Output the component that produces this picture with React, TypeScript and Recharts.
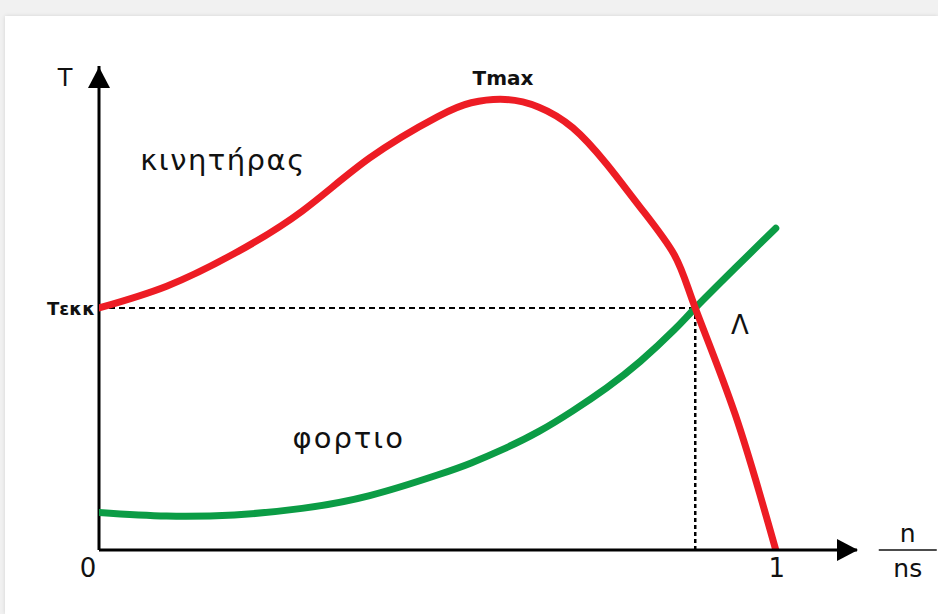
import {
  ComposedChart,
  Line,
  ReferenceDot,
  ReferenceLine,
  XAxis,
  YAxis,
} from "recharts";

// speed ratio n/ns
const speed = [0, 0.1, 0.2, 0.3, 0.4, 0.5, 0.55, 0.6, 0.65, 0.7, 0.75, 0.8, 0.85, 0.881, 0.94, 1.0];
// motor torque (κινητήρας), in units of Tεκκ
const motor = [1.0, 1.09, 1.225, 1.4, 1.62, 1.79, 1.848, 1.862, 1.83, 1.745, 1.595, 1.415, 1.22, 1.0, 0.56, 0];
// load torque (φορτιο)
const load = [0.155, 0.14, 0.145, 0.172, 0.225, 0.31, 0.36, 0.42, 0.49, 0.575, 0.67, 0.78, 0.91, 1.0, 1.165, 1.33];
const xTicks = [0, 1];
const operating = { x: 0.881, y: 1.0 };

const data = speed.map((s, i) => ({ s, motor: motor[i], load: load[i] }));

const FONT = "'DejaVu Sans', 'Noto Sans', sans-serif";
const RED = "#ed1c24";
const GREEN = "#0b9c45";

function textShape(
  text: string,
  opts: { size: number; bold?: boolean; anchor?: string; spacing?: number }
) {
  return (props: any) => (
    <text
      x={props.cx}
      y={props.cy}
      fontFamily={FONT}
      fontSize={opts.size}
      fontWeight={opts.bold ? 700 : 400}
      letterSpacing={opts.spacing ?? 0}
      textAnchor={opts.anchor ?? "middle"}
      dominantBaseline="central"
      fill="#111"
    >
      {text}
    </text>
  );
}

function UpArrow(props: any) {
  const { cx, cy } = props;
  return <polygon points={`${cx},${cy + 1} ${cx - 11},${cy + 22} ${cx + 11},${cy + 22}`} fill="#000" />;
}

function RightArrow(props: any) {
  const { cx, cy } = props;
  return <polygon points={`${cx + 1},${cy} ${cx - 20},${cy - 11} ${cx - 20},${cy + 11}`} fill="#000" />;
}

function Fraction(props: any) {
  const { cx, cy } = props;
  return (
    <g fontFamily={FONT} fontSize={25} fill="#111" textAnchor="middle">
      <text x={cx} y={cy - 17} dominantBaseline="central">n</text>
      <line x1={cx - 29} x2={cx + 29} y1={cy} y2={cy} stroke="#111" strokeWidth={1.5} />
      <text x={cx} y={cy + 18} dominantBaseline="central">ns</text>
    </g>
  );
}

function Tick(props: any) {
  const { x, y, payload } = props;
  const dx = payload.value === 0 ? -11 : 1;
  return (
    <text x={x + dx} y={y + 10} fontFamily={FONT} fontSize={26} textAnchor="middle" dominantBaseline="central" fill="#111">
      {payload.value}
    </text>
  );
}

export default function App() {
  return (
    <div style={{ position: "fixed", left: 0, top: 0, width: 938, height: 614, background: "#f1f1f1" }}>
      <div
        style={{
          position: "absolute",
          left: 5,
          top: 16,
          right: 0,
          bottom: 0,
          background: "#fff",
          boxShadow: "0 0 4px rgba(0,0,0,0.12)",
        }}
      />
      <div style={{ position: "absolute", left: 0, top: 0 }}>
        <ComposedChart width={938} height={614} data={data} margin={{ top: 66, right: 81, bottom: 30, left: 99 }}>
          <XAxis
            dataKey="s"
            type="number"
            domain={[0, 1.12]}
            ticks={xTicks}
            tick={<Tick />}
            tickLine={false}
            axisLine={{ stroke: "#000", strokeWidth: 3 }}
            height={34}
            allowDataOverflow
          />
          <YAxis hide type="number" domain={[0, 2]} allowDataOverflow />
          <ReferenceLine x={0} stroke="#000" strokeWidth={3} />
          <ReferenceLine
            segment={[{ x: 0, y: operating.y }, { x: operating.x, y: operating.y }]}
            stroke="#000"
            strokeWidth={2}
            strokeDasharray="6 4"
          />
          <ReferenceLine
            segment={[{ x: operating.x, y: 0 }, { x: operating.x, y: operating.y }]}
            stroke="#000"
            strokeWidth={2.5}
            strokeDasharray="4 3"
          />
          <Line
            type="natural"
            dataKey="load"
            stroke={GREEN}
            strokeWidth={7}
            strokeLinecap="round"
            dot={false}
            isAnimationActive={false}
          />
          <Line
            type="natural"
            dataKey="motor"
            stroke={RED}
            strokeWidth={7}
            strokeLinecap="round"
            dot={false}
            isAnimationActive={false}
          />
          <ReferenceDot x={0} y={2} ifOverflow="visible" shape={UpArrow} />
          <ReferenceDot x={1.12} y={0} ifOverflow="visible" shape={RightArrow} />
          <ReferenceDot x={-0.05} y={1.95} ifOverflow="visible" shape={textShape("T", { size: 24 })} />
          <ReferenceDot x={0.597} y={1.95} ifOverflow="visible" shape={textShape("Tmax", { size: 20, bold: true })} />
          <ReferenceDot
            x={0.061}
            y={1.61}
            ifOverflow="visible"
            shape={textShape("κινητήρας", { size: 29, anchor: "start", spacing: 1.5 })}
          />
          <ReferenceDot
            x={-0.006}
            y={1.0}
            ifOverflow="visible"
            shape={textShape("Τεκκ", { size: 18, bold: true, anchor: "end" })}
          />
          <ReferenceDot x={0.947} y={0.93} ifOverflow="visible" shape={textShape("Λ", { size: 26 })} />
          <ReferenceDot x={0.369} y={0.463} ifOverflow="visible" shape={textShape("φορτιο", { size: 29, spacing: 2 })} />
          <ReferenceDot x={1.195} y={0} ifOverflow="visible" shape={Fraction} />
        </ComposedChart>
      </div>
    </div>
  );
}
